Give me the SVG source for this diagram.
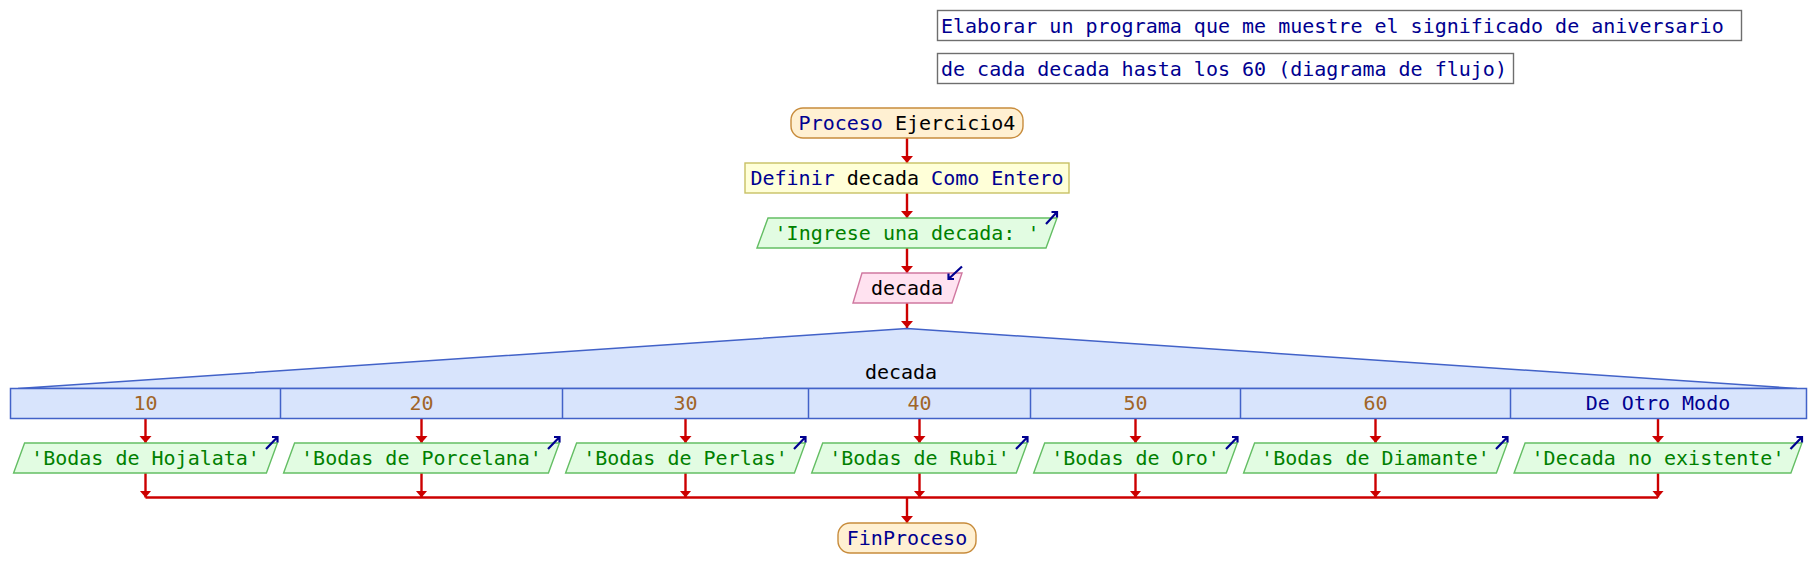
<svg xmlns="http://www.w3.org/2000/svg" width="1814" height="588" viewBox="0 0 1814 588">
<defs>
<style>
text{font-family:"DejaVu Sans Mono","Liberation Mono",monospace;font-size:20px;}
.mid{text-anchor:middle;}
.kw{fill:#000090;}
.id{fill:#000000;}
.str{fill:#008000;}
.num{fill:#A06428;}
.note{fill:#ffffff;stroke:#6e6e6e;stroke-width:1.4;}
.term{fill:#FFF0D2;stroke:#C88C3C;stroke-width:1.4;}
.def{fill:#FFFFD8;stroke:#C8C064;stroke-width:1.4;}
.out{fill:#E2FCE2;stroke:#64BE64;stroke-width:1.4;}
.inp{fill:#FFE2F0;stroke:#D078A0;stroke-width:1.4;}
.sw{fill:#D8E4FC;stroke:#4262C8;stroke-width:1.5;}
.conn{fill:none;stroke:#CC0000;stroke-width:2.4;}
.io{fill:none;stroke:#000090;stroke-width:2.2;}
</style>
<marker id="ah" markerUnits="userSpaceOnUse" markerWidth="10" markerHeight="14" refX="7" refY="6" orient="auto">
<path d="M0,0 L7,6 L0,12 z" fill="#CC0000"/>
</marker>
</defs>
<rect width="1814" height="588" fill="#ffffff"/>

<g id="connectors">
<line class="conn" x1="907" y1="138" x2="907" y2="163" marker-end="url(#ah)"/>
<line class="conn" x1="907" y1="193" x2="907" y2="218" marker-end="url(#ah)"/>
<line class="conn" x1="907" y1="248" x2="907" y2="273" marker-end="url(#ah)"/>
<line class="conn" x1="907" y1="303" x2="907" y2="328" marker-end="url(#ah)"/>
<line class="conn" x1="145.5" y1="418" x2="145.5" y2="443" marker-end="url(#ah)"/>
<line class="conn" x1="421.5" y1="418" x2="421.5" y2="443" marker-end="url(#ah)"/>
<line class="conn" x1="685.5" y1="418" x2="685.5" y2="443" marker-end="url(#ah)"/>
<line class="conn" x1="919.5" y1="418" x2="919.5" y2="443" marker-end="url(#ah)"/>
<line class="conn" x1="1135.5" y1="418" x2="1135.5" y2="443" marker-end="url(#ah)"/>
<line class="conn" x1="1375.5" y1="418" x2="1375.5" y2="443" marker-end="url(#ah)"/>
<line class="conn" x1="1658" y1="418" x2="1658" y2="443" marker-end="url(#ah)"/>
<line class="conn" x1="145.5" y1="473" x2="145.5" y2="497.5" marker-end="url(#ah)"/>
<line class="conn" x1="421.5" y1="473" x2="421.5" y2="497.5" marker-end="url(#ah)"/>
<line class="conn" x1="685.5" y1="473" x2="685.5" y2="497.5" marker-end="url(#ah)"/>
<line class="conn" x1="919.5" y1="473" x2="919.5" y2="497.5" marker-end="url(#ah)"/>
<line class="conn" x1="1135.5" y1="473" x2="1135.5" y2="497.5" marker-end="url(#ah)"/>
<line class="conn" x1="1375.5" y1="473" x2="1375.5" y2="497.5" marker-end="url(#ah)"/>
<line class="conn" x1="1658" y1="473" x2="1658" y2="497.5" marker-end="url(#ah)"/>
<line class="conn" x1="145.5" y1="497.5" x2="1658" y2="497.5"/>
<line class="conn" x1="907" y1="497.5" x2="907" y2="523" marker-end="url(#ah)"/>
</g>

<g id="n-title1">
<rect class="note" x="937.5" y="10.5" width="804" height="30"/>
<text class="kw" x="941" y="32.5">Elaborar un programa que me muestre el significado de aniversario</text>
</g>
<g id="n-title2">
<rect class="note" x="937.5" y="53.5" width="576" height="30"/>
<text class="kw" x="941" y="75.5">de cada decada hasta los 60 (diagrama de flujo)</text>
</g>

<g id="n-proceso">
<rect class="term" x="791" y="108" width="232" height="30" rx="12" ry="12"/>
<text class="mid" x="907" y="130"><tspan class="kw">Proceso</tspan> <tspan class="id">Ejercicio4</tspan></text>
</g>

<g id="n-definir">
<rect class="def" x="745" y="163" width="324" height="30"/>
<text class="mid" x="907" y="185"><tspan class="kw">Definir</tspan> <tspan class="id">decada</tspan> <tspan class="kw">Como Entero</tspan></text>
</g>

<g id="n-escribir">
<polygon class="out" points="757,248 768,218 1057,218 1046,248"/>
<text class="mid str" x="907" y="240">'Ingrese una decada: '</text>
<path class="io" d="M1046,224 L1057,212 M1051.5,212 L1057,212 L1057,217.5"/>
</g>

<g id="n-leer">
<polygon class="inp" points="853,303 862,273 962,273 952,303"/>
<text class="mid id" x="907" y="295">decada</text>
<path class="io" d="M962,266.5 L948.5,279 M948.5,273.5 L948.5,279 L954,279"/>
</g>

<g id="n-segun">
<path class="sw" d="M18,388.5 L907,328.5 L1797,388.5 Z"/>
<rect class="sw" x="10.5" y="388.5" width="1796" height="30"/>
<line class="sw" x1="280.5" y1="388.5" x2="280.5" y2="418.5"/>
<line class="sw" x1="562.5" y1="388.5" x2="562.5" y2="418.5"/>
<line class="sw" x1="808.5" y1="388.5" x2="808.5" y2="418.5"/>
<line class="sw" x1="1030.5" y1="388.5" x2="1030.5" y2="418.5"/>
<line class="sw" x1="1240.5" y1="388.5" x2="1240.5" y2="418.5"/>
<line class="sw" x1="1510.5" y1="388.5" x2="1510.5" y2="418.5"/>
<text class="mid id" x="901" y="379">decada</text>
<text class="mid num" x="145.5" y="410">10</text>
<text class="mid num" x="421.5" y="410">20</text>
<text class="mid num" x="685.5" y="410">30</text>
<text class="mid num" x="919.5" y="410">40</text>
<text class="mid num" x="1135.5" y="410">50</text>
<text class="mid num" x="1375.5" y="410">60</text>
<text class="mid kw" x="1658" y="410">De Otro Modo</text>
</g>

<g id="n-out1">
<polygon class="out" points="13.6,473 24.6,443 277.4,443 266.4,473"/>
<text class="mid str" x="145.5" y="465">'Bodas de Hojalata'</text>
<path class="io" d="M266,449 L277.5,437 M272,437 L277.5,437 L277.5,442.5"/>
</g>
<g id="n-out2">
<polygon class="out" points="283.6,473 294.6,443 559.4,443 548.4,473"/>
<text class="mid str" x="421.5" y="465">'Bodas de Porcelana'</text>
<path class="io" d="M548,449 L559.5,437 M554,437 L559.5,437 L559.5,442.5"/>
</g>
<g id="n-out3">
<polygon class="out" points="565.6,473 576.6,443 805.4,443 794.4,473"/>
<text class="mid str" x="685.5" y="465">'Bodas de Perlas'</text>
<path class="io" d="M794,449 L805.5,437 M800,437 L805.5,437 L805.5,442.5"/>
</g>
<g id="n-out4">
<polygon class="out" points="811.7,473 822.7,443 1027.3,443 1016.3,473"/>
<text class="mid str" x="919.5" y="465">'Bodas de Rubi'</text>
<path class="io" d="M1016,449 L1027.5,437 M1022,437 L1027.5,437 L1027.5,442.5"/>
</g>
<g id="n-out5">
<polygon class="out" points="1033.7,473 1044.7,443 1237.3,443 1226.3,473"/>
<text class="mid str" x="1135.5" y="465">'Bodas de Oro'</text>
<path class="io" d="M1226,449 L1237.5,437 M1232,437 L1237.5,437 L1237.5,442.5"/>
</g>
<g id="n-out6">
<polygon class="out" points="1243.6,473 1254.6,443 1507.4,443 1496.4,473"/>
<text class="mid str" x="1375.5" y="465">'Bodas de Diamante'</text>
<path class="io" d="M1496,449 L1507.5,437 M1502,437 L1507.5,437 L1507.5,442.5"/>
</g>
<g id="n-out7">
<polygon class="out" points="1514.1,473 1525.1,443 1801.9,443 1790.9,473"/>
<text class="mid str" x="1658" y="465">'Decada no existente'</text>
<path class="io" d="M1790.5,449 L1802,437 M1796.5,437 L1802,437 L1802,442.5"/>
</g>

<g id="n-fin">
<rect class="term" x="838" y="523" width="138" height="30" rx="12" ry="12"/>
<text class="mid kw" x="907" y="545">FinProceso</text>
</g>
</svg>
